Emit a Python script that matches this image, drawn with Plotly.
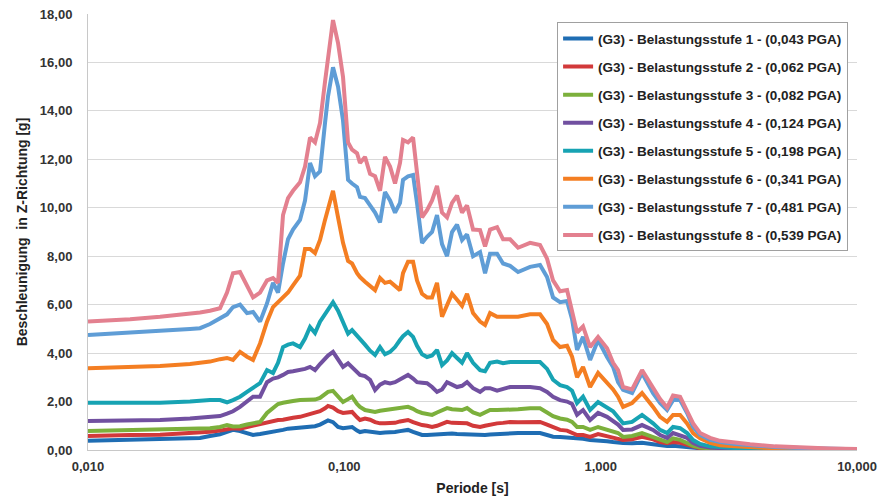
import plotly.graph_objects as go

# Period [s]
periods = [0.0100, 0.0122, 0.0146, 0.0191, 0.0250, 0.02735, 0.02992, 0.03273, 0.03486, 0.03679,
           0.03918, 0.04172, 0.04404, 0.04690, 0.04993, 0.05270, 0.05512, 0.05765, 0.06030, 0.06307,
           0.06717, 0.07025, 0.07348, 0.07685, 0.08038, 0.08407, 0.08637, 0.09033, 0.09450, 0.09883,
           0.1034, 0.1072, 0.1121, 0.1151, 0.1204, 0.1260, 0.1318, 0.1378, 0.1441, 0.1508,
           0.1577, 0.1649, 0.1694, 0.1772, 0.1854, 0.1921, 0.2010, 0.2102, 0.2199, 0.2299,
           0.2405, 0.2516, 0.2631, 0.2752, 0.2879, 0.3011, 0.3178, 0.3385, 0.3540, 0.3702,
           0.3944, 0.4162, 0.4432, 0.4762, 0.5304, 0.5801, 0.6178, 0.6520, 0.6943, 0.7394,
           0.7734, 0.8089, 0.8536, 0.9094, 0.9770, 1.059, 1.118, 1.169, 1.223, 1.326,
           1.450, 1.601, 1.705, 1.816, 1.916, 2.041, 2.173, 2.294, 2.442, 2.672,
           2.923, 3.345, 3.827, 4.791, 5.998, 7.853, 10.0]

stufe1 = [0.38, 0.41, 0.42, 0.45, 0.48, 0.50, 0.58, 0.65, 0.75, 0.83,
          0.78, 0.68, 0.62, 0.66, 0.70, 0.75, 0.80, 0.83, 0.88, 0.90,
          0.95, 0.95, 0.95, 0.98, 1.05, 1.15, 1.22, 1.15, 0.95, 0.90,
          0.95, 0.95, 0.80, 0.74, 0.78, 0.75, 0.70, 0.70, 0.72, 0.72,
          0.74, 0.78, 0.80, 0.83, 0.75, 0.68, 0.62, 0.62, 0.63, 0.65,
          0.68, 0.70, 0.68, 0.66, 0.65, 0.66, 0.64, 0.62, 0.62, 0.64,
          0.66, 0.68, 0.70, 0.70, 0.70, 0.70, 0.62, 0.55, 0.54, 0.52,
          0.50, 0.50, 0.46, 0.41, 0.40, 0.36, 0.33, 0.30, 0.29, 0.28,
          0.30, 0.24, 0.20, 0.17, 0.18, 0.15, 0.12, 0.08, 0.05, 0.03,
          0.02, 0.015, 0.01, 0.008, 0.005, 0.004, 0.003]

stufe2 = [0.58, 0.61, 0.62, 0.63, 0.68, 0.70, 0.75, 0.80, 0.85, 0.90,
          0.88, 0.95, 1.00, 1.10, 1.15, 1.20, 1.24, 1.25, 1.30, 1.33,
          1.37, 1.42, 1.48, 1.53, 1.60, 1.72, 1.82, 1.75, 1.60, 1.53,
          1.55, 1.57, 1.35, 1.24, 1.30, 1.25, 1.15, 1.10, 1.10, 1.10,
          1.12, 1.18, 1.20, 1.24, 1.15, 1.08, 1.03, 1.00, 0.95, 1.00,
          1.10, 1.16, 1.12, 1.10, 1.08, 1.10, 1.00, 0.95, 1.00, 1.05,
          1.10, 1.12, 1.16, 1.15, 1.16, 1.16, 1.05, 0.95, 0.83, 0.80,
          0.72, 0.62, 0.62, 0.54, 0.66, 0.57, 0.52, 0.48, 0.41, 0.44,
          0.54, 0.44, 0.33, 0.28, 0.33, 0.30, 0.22, 0.12, 0.07, 0.04,
          0.03, 0.02, 0.015, 0.01, 0.01, 0.005, 0.005]

stufe3 = [0.78, 0.80, 0.81, 0.83, 0.87, 0.90, 0.90, 0.95, 1.03, 0.97,
          0.98, 1.05, 1.12, 1.16, 1.53, 1.75, 1.90, 1.95, 2.00, 2.02,
          2.06, 2.06, 2.06, 2.08, 2.15, 2.30, 2.40, 2.44, 2.20, 1.98,
          2.10, 2.20, 1.90, 1.78, 1.65, 1.60, 1.57, 1.62, 1.65, 1.67,
          1.70, 1.73, 1.75, 1.78, 1.70, 1.60, 1.53, 1.50, 1.45, 1.55,
          1.65, 1.73, 1.68, 1.65, 1.65, 1.73, 1.55, 1.45, 1.55, 1.65,
          1.65, 1.65, 1.65, 1.68, 1.72, 1.72, 1.55, 1.40, 1.30, 1.25,
          1.16, 0.95, 0.95, 0.83, 0.95, 0.85, 0.78, 0.70, 0.54, 0.58,
          0.70, 0.54, 0.42, 0.33, 0.48, 0.42, 0.29, 0.17, 0.10, 0.06,
          0.04, 0.03, 0.02, 0.015, 0.01, 0.01, 0.005]

stufe4 = [1.20, 1.21, 1.22, 1.24, 1.30, 1.32, 1.35, 1.40, 1.50, 1.60,
          1.78, 2.00, 2.20, 2.20, 2.80, 2.95, 3.00, 3.10, 3.22, 3.25,
          3.30, 3.35, 3.43, 3.30, 3.55, 3.80, 3.90, 4.05, 3.70, 3.43,
          3.58, 3.40, 3.18, 3.10, 3.05, 2.90, 2.48, 2.70, 2.80, 2.75,
          2.80, 2.90, 3.00, 3.10, 2.95, 2.80, 2.78, 2.76, 2.60, 2.40,
          2.50, 2.80, 2.70, 2.60, 2.65, 2.80, 2.55, 2.40, 2.55, 2.55,
          2.45, 2.50, 2.60, 2.60, 2.60, 2.55, 2.40, 2.20, 2.06, 2.00,
          1.90, 1.45, 1.65, 1.24, 1.53, 1.37, 1.20, 1.05, 0.83, 0.85,
          1.03, 0.83, 0.62, 0.50, 0.70, 0.62, 0.50, 0.29, 0.17, 0.10,
          0.07, 0.05, 0.04, 0.03, 0.02, 0.01, 0.01]

stufe5 = [1.95, 1.95, 1.95, 1.95, 2.00, 2.04, 2.06, 2.06, 1.97, 2.06,
          2.20, 2.40, 2.55, 2.76, 3.30, 3.18, 3.60, 4.25, 4.35, 4.40,
          4.25, 4.60, 5.08, 4.83, 5.30, 5.60, 5.78, 6.10, 5.75, 5.30,
          4.80, 4.95, 4.70, 4.54, 4.35, 4.10, 3.92, 4.25, 3.95, 4.05,
          4.25, 4.54, 4.70, 4.87, 4.67, 4.30, 3.95, 3.84, 3.90, 4.13,
          3.50, 3.70, 4.00, 3.80, 3.60, 4.00, 3.60, 3.30, 3.25, 3.60,
          3.65, 3.58, 3.63, 3.63, 3.63, 3.63, 3.35, 2.90, 2.68, 2.60,
          2.45, 1.94, 2.20, 1.65, 1.98, 1.78, 1.60, 1.35, 1.10, 1.16,
          1.45, 1.10, 0.83, 0.70, 0.95, 0.90, 0.70, 0.41, 0.25, 0.15,
          0.11, 0.08, 0.06, 0.04, 0.03, 0.02, 0.01]

stufe6 = [3.38, 3.40, 3.43, 3.47, 3.55, 3.58, 3.65, 3.75, 3.80, 3.72,
          4.05, 3.85, 3.72, 4.40, 5.30, 5.90, 6.10, 6.30, 6.50, 6.80,
          7.20, 8.30, 8.30, 8.13, 8.67, 9.50, 10.00, 10.70, 9.60, 8.55,
          7.80, 7.70, 7.30, 7.14, 6.95, 6.75, 6.60, 7.10, 6.90, 6.95,
          6.80, 6.60, 7.30, 7.77, 7.77, 7.00, 6.45, 6.30, 6.30, 6.90,
          5.50, 6.00, 6.45, 6.20, 5.95, 6.45, 5.65, 5.30, 5.16, 5.65,
          5.50, 5.50, 5.50, 5.50, 5.60, 5.60, 5.20, 4.54, 4.25, 4.30,
          3.85, 3.00, 3.43, 2.60, 3.18, 2.76, 2.50, 2.20, 1.78, 1.94,
          2.35, 1.78, 1.37, 1.16, 1.45, 1.45, 1.10, 0.70, 0.48, 0.30,
          0.20, 0.15, 0.11, 0.07, 0.05, 0.03, 0.02]

stufe7 = [4.75, 4.79, 4.85, 4.92, 5.00, 5.03, 5.20, 5.45, 5.60, 5.90,
          6.00, 5.65, 5.70, 5.30, 6.05, 6.90, 6.50, 7.70, 8.70, 9.10,
          9.50, 10.30, 11.85, 11.30, 11.50, 13.50, 14.60, 15.80, 15.00, 13.60,
          11.15, 11.00, 10.85, 10.45, 10.40, 10.10, 9.80, 9.40, 10.65, 10.30,
          9.80, 10.20, 11.15, 11.30, 11.35, 10.20, 8.55, 8.80, 9.00, 9.70,
          8.50, 8.00, 9.00, 9.30, 8.67, 8.90, 8.00, 8.17, 7.30, 8.10,
          8.10, 7.70, 7.60, 7.35, 7.56, 7.64, 7.14, 6.30, 6.10, 6.15,
          5.40, 4.13, 4.67, 3.72, 4.54, 3.84, 3.43, 2.80, 2.48, 2.35,
          3.18, 2.35, 1.94, 1.65, 2.06, 2.06, 1.53, 0.95, 0.62, 0.42,
          0.33, 0.25, 0.20, 0.12, 0.08, 0.05, 0.03]

stufe8 = [5.30, 5.34, 5.40, 5.50, 5.62, 5.68, 5.75, 5.85, 6.50, 7.30,
          7.35, 6.80, 6.30, 6.50, 7.00, 7.10, 6.90, 9.70, 10.40, 10.70,
          11.05, 11.70, 12.90, 12.70, 13.50, 15.20, 16.10, 17.75, 16.80, 15.40,
          12.70, 12.40, 12.25, 11.85, 12.10, 11.40, 11.30, 10.70, 12.10, 11.70,
          11.00, 11.85, 12.80, 12.70, 12.90, 11.50, 9.60, 9.90, 10.30, 10.90,
          9.80, 9.60, 10.20, 10.50, 9.80, 10.10, 9.10, 9.08, 8.40, 9.10,
          9.20, 8.70, 8.70, 8.35, 8.55, 8.46, 7.90, 7.00, 6.55, 6.60,
          5.80, 4.85, 5.10, 4.25, 4.67, 4.20, 3.60, 3.30, 2.60, 2.50,
          3.30, 2.60, 2.10, 1.75, 2.25, 2.20, 1.65, 1.10, 0.70, 0.50,
          0.38, 0.30, 0.24, 0.15, 0.10, 0.06, 0.04]

series_names = [
    "(G3) - Belastungsstufe 1 - (0,043 PGA)",
    "(G3) - Belastungsstufe 2 - (0,062 PGA)",
    "(G3) - Belastungsstufe 3 - (0,082 PGA)",
    "(G3) - Belastungsstufe 4 - (0,124 PGA)",
    "(G3) - Belastungsstufe 5 - (0,198 PGA)",
    "(G3) - Belastungsstufe 6 - (0,341 PGA)",
    "(G3) - Belastungsstufe 7 - (0,481 PGA)",
    "(G3) - Belastungsstufe 8 - (0,539 PGA)",
]
series_values = [stufe1, stufe2, stufe3, stufe4, stufe5, stufe6, stufe7, stufe8]
colors = ["#1f6db3", "#d2393a", "#7cb03c", "#7150a0", "#17a3b3", "#f47e22", "#5f9dd6", "#e3808f"]

x_tickvals = [0.01, 0.1, 1, 10]
x_ticktext = ["0,010", "0,100", "1,000", "10,000"]

fig = go.Figure()
for i, (name, vals, col) in enumerate(zip(series_names, series_values, colors)):
    assert len(vals) == len(periods)
    fig.add_trace(go.Scatter(
        x=periods, y=vals, mode="lines", name=name,
        legendgroup="g%d" % i,
        line=dict(color=col, width=4, shape="linear"),
    ))

font_family = "Liberation Sans, Arial, sans-serif"
fig.update_layout(
    width=886, height=497,
    margin=dict(l=88, r=29, t=13.5, b=47, autoexpand=False),
    paper_bgcolor="white", plot_bgcolor="white",
    separators=",.",
    font=dict(family=font_family, color="#333333"),
    showlegend=True,
    legend=dict(
        x=0.610, y=0.981, xanchor="left", yanchor="top",
        bgcolor="white", bordercolor="#a0a0a0", borderwidth=1,
        font=dict(family=font_family, size=13.5, color="#222222", weight="bold"),
        tracegroupgap=7.5,
        traceorder="grouped",
        itemwidth=30,
    ),
    xaxis=dict(
        type="log", range=[-2, 1],
        tickvals=x_tickvals, ticktext=x_ticktext,
        showgrid=False, zeroline=False,
        showline=True, linecolor="#c8c8c8", linewidth=1,
        ticks="", ticklen=0, ticklabelstandoff=4,
        tickfont=dict(family=font_family, size=13, color="#333333", weight="bold"),
        title=dict(text="Periode [s]", standoff=10,
                   font=dict(family=font_family, size=14, color="#222222", weight="bold")),
    ),
    yaxis=dict(
        range=[0, 18], dtick=2, tickformat=".2f",
        showgrid=True, gridcolor="#d9d9d9", gridwidth=1,
        zeroline=False,
        showline=True, linecolor="#c8c8c8", linewidth=1,
        ticks="", ticklen=0, ticklabelstandoff=12,
        tickfont=dict(family=font_family, size=13, color="#333333", weight="bold"),
        title=dict(text="Beschleunigung  in Z-Richtung [g]", standoff=8,
                   font=dict(family=font_family, size=14, color="#222222", weight="bold")),
    ),
)

fig.write_html("out.html",
               config={"displayModeBar": False},
               post_script="document.body.style.margin='0px';document.body.style.overflow='hidden';")
